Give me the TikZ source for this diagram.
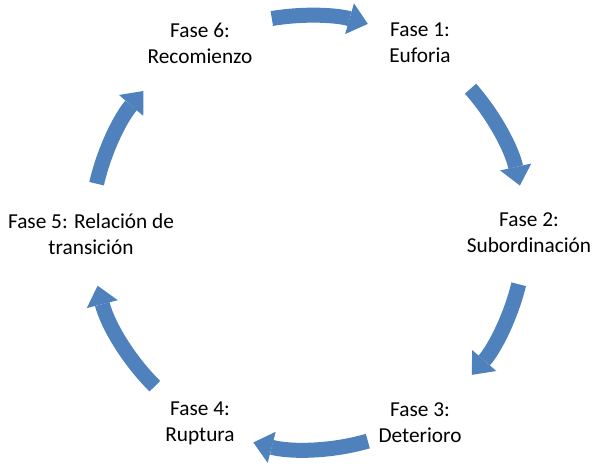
\documentclass[tikz,border=0pt]{standalone}
\usepackage{fontspec}
\setmainfont{Carlito}
\usetikzlibrary{arrows.meta,calc}
\definecolor{faseblue}{RGB}{79,129,189}
\tikzset{
	fase/.style={align=center,inner sep=0pt,text=black,
		font=\fontsize{21.3}{26}\selectfont},
	ciclo/.style={draw=faseblue,line width=15pt,
		-{Triangle[width=32pt,length=19pt,line width=0pt]}}
}

\begin{document}
\begin{tikzpicture}[x=1pt,y=1pt]
\useasboundingbox (0,0) rectangle (594,463);
\coordinate (c) at (308,230.5);
% phases
\node[fase] (f1) at (420,420) {Fase 1:\\Euforia};
\node[fase] (f2) at (529,230) {Fase 2:\\Subordinación};
\node[fase] (f3) at (420,40) {Fase 3:\\Deterioro};
\node[fase] (f4) at (200,40) {Fase 4:\\Ruptura};
\node[fase] (f5) at (91,229) {Fase 5: Relación de\\transición};
\node[fase] (f6) at (200,420) {Fase 6:\\Recomienzo};
% arrows between phases
\foreach \a/\b [count=\i] in {99.6/74, 41.5/12.5, -13.8/-41, -74/-104.6, -134.9/-165.8, 167/139.3}{
	\coordinate (t\i) at ($(c)+(\a:217)$);
	\draw[ciclo] (t\i) arc[start angle=\a, end angle=\b, radius=217];
}
\end{tikzpicture}
\end{document}
